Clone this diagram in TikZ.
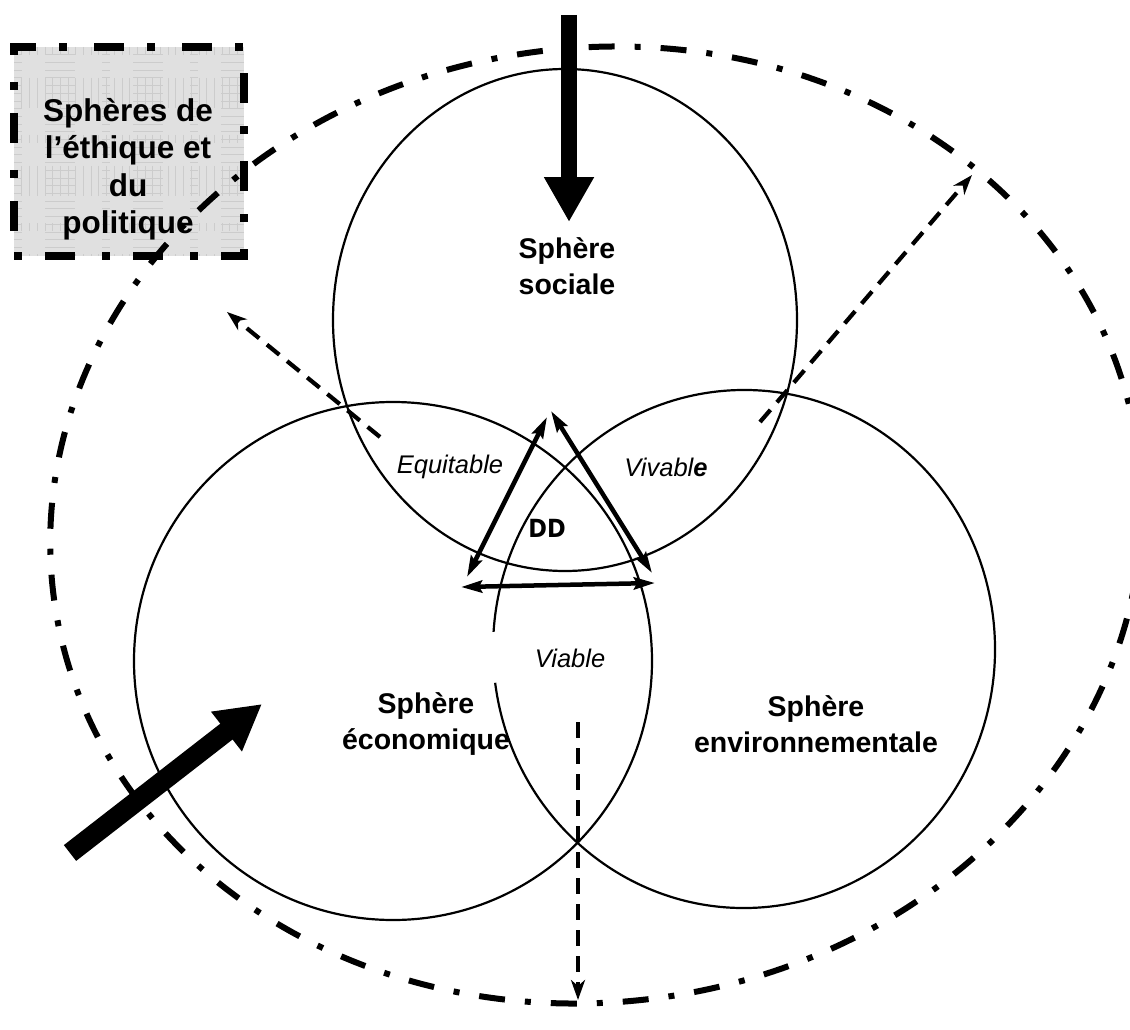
\documentclass[tikz,border=0pt]{standalone}
\usepackage{fontspec}
\setmainfont{Liberation Sans}
\newfontfamily\ddfont{DejaVu Sans Condensed}
\usetikzlibrary{arrows.meta,shapes.geometric}
\begin{document}
\begin{tikzpicture}[x=1pt,y=-1pt,
  circ/.style={ellipse,draw,line width=2.2pt,inner sep=0pt,outer sep=0pt},
  lbl/.style={font=\fontsize{28.5}{36}\selectfont\bfseries,align=center},
  itl/.style={font=\fontsize{25.5}{30}\selectfont\itshape},
  dasharrow/.style={line width=4.2pt,dash pattern=on 16pt off 10pt,-{Stealth[length=20pt,width=14pt,inset=6pt]}},
  ddarrow/.style={line width=4.5pt,{Stealth[length=21pt,width=12pt,inset=3pt]}-{Stealth[length=21pt,width=12pt,inset=3pt]}},
  bigarrow/.style={-{Triangle[length=45pt,width=47pt]}},
  outerline/.style={line width=6pt,dash pattern=on 26pt off 20pt on 6pt off 20pt},
  gridline/.style={black!20,line width=0.6pt}
]
\useasboundingbox (0,0) rectangle (1130,1030);
\fill[white] (0,0) rectangle (1130,1030);

% ethics box
\node[draw, line width=8pt, dash pattern=on 8pt off 23pt on 30pt off 27pt,
      fill=black!12, minimum width=230pt, minimum height=209pt, inner sep=0pt,
      path picture={
        \foreach \k in {1,...,30}{
          \draw[gridline] ([xshift=\k*7.7pt]path picture bounding box.north west) -- ([xshift=\k*7.7pt]path picture bounding box.south west);
          \draw[gridline] ([yshift=-\k*7.7pt]path picture bounding box.north west) -- ([yshift=-\k*7.7pt]path picture bounding box.north east);
        }}] (ethbox) at (129,151.5) {};
\node[font=\fontsize{31.5}{37.5}\selectfont\bfseries, align=center] (ethtxt) at (128,169)
  {Sphères de\\l’éthique et\\du\\politique};

% spheres
\node[circ, minimum width=464pt, minimum height=502pt] (soc) at (565,320) {};
\node[circ, minimum width=518pt, minimum height=518pt] (eco) at (393,661) {};
\node[ellipse, inner sep=0pt, outer sep=0pt, minimum width=502pt, minimum height=518pt] (env) at (744,649) {};
\draw[line width=2.2pt] ([shift={(187.5:251pt and 259pt)}]env.center)
  arc[start angle=187.5, end angle=536.2, x radius=251pt, y radius=259pt];

% dashed arrows
\coordinate (d1s) at (380,437); \coordinate (d1e) at (227,312);
\coordinate (d2s) at (760,422); \coordinate (d2e) at (972,175);
\coordinate (d3s) at (578,722); \coordinate (d3e) at (578,1000);
\draw[dasharrow] (d1s) -- (d1e);
\draw[dasharrow] (d2s) -- (d2e);
\draw[dasharrow] (d3s) -- (d3e);

% outer dash-dot ellipse
\node[ellipse, draw, outerline, inner sep=0pt, minimum width=1094pt, minimum height=954pt, rotate=8] (outer) at (596,525) {};

% DD triangle
\coordinate (ta) at (547,417); \coordinate (tb) at (467,577);
\coordinate (tc) at (551,411); \coordinate (td) at (652,573);
\coordinate (te) at (461,587); \coordinate (tf) at (655,583);
\draw[ddarrow] (ta) -- (tb);
\draw[ddarrow] (tc) -- (td);
\draw[ddarrow] (te) -- (tf);

% labels
\node[lbl] (tsoc) at (567,266) {Sphère\\sociale};
\node[lbl] (teco) at (426,724) {Sphère\\économique};
\node[lbl] (tenv) at (816,724) {Sphère\\environnementale};
\node[itl] (teq) at (450,467) {Equitable};
\node[itl] (tviv) at (666,467) {Vivabl\textbf{e}};
\node[itl] (tvia) at (570,658) {Viable};
\node[font={\ddfont\bfseries\fontsize{25}{28}\selectfont}] (tdd) at (547,528) {DD};

% big arrows
\coordinate (a1s) at (569,15); \coordinate (a1e) at (569,222);
\coordinate (a2s) at (70,853); \coordinate (a2e) at (262,704);
\draw[line width=16pt, bigarrow] (a1s) -- (a1e);
\draw[line width=20pt, bigarrow] (a2s) -- (a2e);
\end{tikzpicture}
\end{document}
